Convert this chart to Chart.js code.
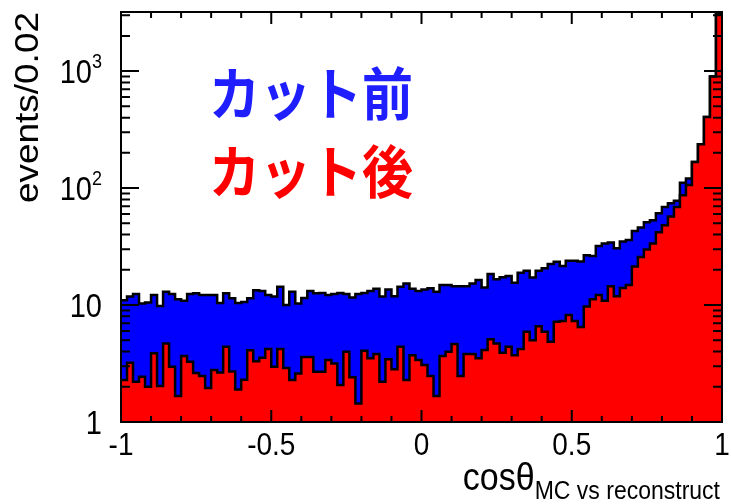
<!DOCTYPE html>
<html>
<head>
<meta charset="utf-8">
<script src="https://cdn.jsdelivr.net/npm/chart.js@4"></script>
<style>
  body { margin: 0; background: #fff; }
  #wrap { width: 731px; height: 504px; }
</style>
</head>
<body>
<div id="wrap"><canvas id="hist" width="731" height="504"></canvas></div>
<script>
// histogram binning: 100 bins from -1 to 1
const binLow = -1;
const binWidth = 0.02;

// events per bin before the cut (blue)
const cutBefore = [
  11.0, 11.8, 12.4, 10.3, 10.5, 12.2, 9.8, 13.0, 12.4, 11.2,
  10.9, 12.4, 12.6, 12.2, 12.2, 12.2, 10.4, 12.6, 11.4, 10.4,
  10.6, 11.4, 13.4, 13.2, 12.2, 11.8, 14.3, 10.0, 13.0, 10.3,
  11.5, 13.2, 12.6, 12.7, 12.2, 12.4, 12.7, 12.4, 11.6, 12.4,
  12.7, 13.2, 13.8, 11.8, 13.6, 11.9, 14.3, 15.3, 13.8, 13.2,
  13.6, 13.9, 13.0, 14.8, 14.8, 14.5, 14.5, 14.5, 15.3, 16.4,
  14.1, 18.4, 16.6, 17.3, 17.7, 15.5, 18.9, 19.6, 17.2, 19.6,
  20.6, 22.4, 23.4, 21.6, 23.9, 23.9, 23.6, 26.7, 26.2, 31.9,
  33.6, 34.2, 30.6, 35, 36, 43, 46, 51, 53, 61,
  69, 74, 78, 111, 121, 167, 237, 406, 900, 3100
];

// events per bin after the cut (red)
const cutAfter = [
  2.29, 3.21, 2.21, 2.44, 2.0, 3.87, 2.03, 4.7, 2.97, 1.67,
  3.67, 3.28, 2.62, 2.47, 1.95, 2.78, 2.65, 4.4, 2.7, 1.9,
  2.3, 4.1, 3.3, 3.55, 4.2, 2.97, 4.2, 2.9, 2.29, 2.6,
  3.6, 3.6, 2.69, 2.69, 3.39, 3.17, 2.07, 3.99, 2.41, 1.44,
  4.07, 3.5, 3.81, 2.21, 3.44, 2.82, 4.4, 2.29, 3.73, 3.39,
  3.07, 2.47, 1.67, 3.67, 3.99, 4.64, 2.47, 3.81, 3.81, 3.5,
  4.12, 5.09, 4.7, 3.91, 4.4, 3.73, 4.2, 5.9, 5.0, 6.6,
  5.9, 4.85, 7.2, 7.3, 8.2, 7.3, 6.5, 9.7, 11.2, 12.2,
  10.9, 14.5, 11.9, 14, 14.8, 21.3, 25.8, 29.8, 33.6, 42,
  48, 57, 69, 87, 106, 167, 237, 406, 900, 3100
];

const xTickLabels = ['-1', '-0.5', '0', '0.5', '1'];
const xTickValues = [-1, -0.5, 0, 0.5, 1];
const yDecades = [1, 10, 100, 1000];
const yTickLabels = [['1', ''], ['10', ''], ['10', '2'], ['10', '3']];

const labelBefore = 'カット前';
const labelAfter = 'カット後';

const sans = '"Liberation Sans", Arial, sans-serif';
const stretch = 1.12; // text in the picture is a bit taller than wide

function toSteps(vals){
  const pts = vals.map((v, i) => ({x: binLow + i*binWidth, y: v}));
  pts.push({x: binLow + vals.length*binWidth, y: vals[vals.length-1]});
  return pts;
}

// draw text stretched vertically around its baseline point
function tallText(ctx, txt, px, py){
  ctx.save();
  ctx.translate(px, py);
  ctx.scale(1, stretch);
  ctx.fillText(txt, 0, 0);
  ctx.restore();
}

const rootFrame = {
  id: 'rootFrame',
  beforeDraw(chart){
    const ctx = chart.ctx;
    ctx.save();
    ctx.fillStyle = '#fff';
    ctx.fillRect(0, 0, chart.width, chart.height);
    ctx.restore();
  },
  afterDatasetsDraw(chart){
    const { ctx, chartArea: { top, bottom, left, right }, scales: { x, y } } = chart;
    ctx.save();
    ctx.strokeStyle = '#000';
    ctx.lineWidth = 2;

    // ticks on x (bottom + top)
    ctx.beginPath();
    for (let k = -10; k <= 10; k++){
      const px = x.getPixelForValue(k/10);
      const len = (k % 5 === 0) ? 12 : 6;
      ctx.moveTo(px, bottom); ctx.lineTo(px, bottom - len);
      ctx.moveTo(px, top); ctx.lineTo(px, top + len);
    }
    // ticks on y (left + right)
    yDecades.forEach(d => {
      for (let m = 1; m <= 9; m++){
        const v = d*m;
        if (v > y.max) break;
        const py = y.getPixelForValue(v);
        const len = (m === 1) ? 18 : 9;
        ctx.moveTo(left, py); ctx.lineTo(left + len, py);
        ctx.moveTo(right, py); ctx.lineTo(right - len, py);
      }
    });
    ctx.stroke();
    ctx.strokeRect(left, top, right - left, bottom - top);

    // tick labels
    ctx.fillStyle = '#000';
    ctx.font = '28px ' + sans;
    ctx.textAlign = 'center';
    ctx.textBaseline = 'alphabetic';
    xTickValues.forEach((v, i) => {
      tallText(ctx, xTickLabels[i], x.getPixelForValue(v), 455);
    });

    yDecades.forEach((d, i) => {
      const py = y.getPixelForValue(d);
      const [base, sup] = yTickLabels[i];
      const rightEdge = 102;
      ctx.font = '18px ' + sans;
      const sw = sup ? ctx.measureText(sup).width : 0;
      ctx.textAlign = 'left';
      if (sup) tallText(ctx, sup, rightEdge - sw, py - 3);
      ctx.font = '29px ' + sans;
      ctx.textAlign = 'right';
      tallText(ctx, base, rightEdge - sw, py + 12);
    });

    // y title
    ctx.save();
    ctx.translate(38, 12);
    ctx.rotate(-Math.PI/2);
    ctx.scale(stretch, 1);
    ctx.font = '33px ' + sans;
    ctx.textAlign = 'right';
    ctx.fillText('events/0.02', 0, 0);
    ctx.restore();

    // x title with subscript
    ctx.textAlign = 'left';
    ctx.font = '23px ' + sans;
    const sub = 'MC vs reconstruct';
    const subW = ctx.measureText(sub).width;
    ctx.font = '34px ' + sans;
    const main = 'cosθ';
    const mainW = ctx.measureText(main).width;
    const xEnd = 720;
    tallText(ctx, main, xEnd - subW - mainW, 490);
    ctx.font = '23px ' + sans;
    tallText(ctx, sub, xEnd - subW, 499);

    // annotations
    ctx.font = 'bold 51px "Noto Sans CJK JP", sans-serif';
    ctx.textBaseline = 'middle';
    ctx.fillStyle = '#1e1eff';
    tallText(ctx, labelBefore, 209, 93);
    ctx.fillStyle = '#ff0000';
    tallText(ctx, labelAfter, 209, 171);
    ctx.restore();
  }
};

new Chart(document.getElementById('hist'), {
  type: 'line',
  data: {
    datasets: [
      {
        label: labelAfter,
        data: toSteps(cutAfter),
        stepped: true,
        fill: 'start',
        backgroundColor: '#ff0000',
        borderColor: '#000',
        borderWidth: 2.5,
        pointRadius: 0,
        order: 1
      },
      {
        label: labelBefore,
        data: toSteps(cutBefore),
        stepped: true,
        fill: 'start',
        backgroundColor: '#0000ff',
        borderColor: '#000',
        borderWidth: 2.5,
        pointRadius: 0,
        order: 2
      }
    ]
  },
  options: {
    responsive: false,
    devicePixelRatio: 1,
    animation: false,
    layout: { padding: { left: 121, right: 9, top: 12, bottom: 82 } },
    plugins: { legend: { display: false }, tooltip: { enabled: false } },
    scales: {
      x: { type: 'linear', min: -1, max: 1, display: false },
      y: { type: 'logarithmic', min: 1, max: 3200, display: false }
    }
  },
  plugins: [rootFrame]
});
</script>
</body>
</html>
